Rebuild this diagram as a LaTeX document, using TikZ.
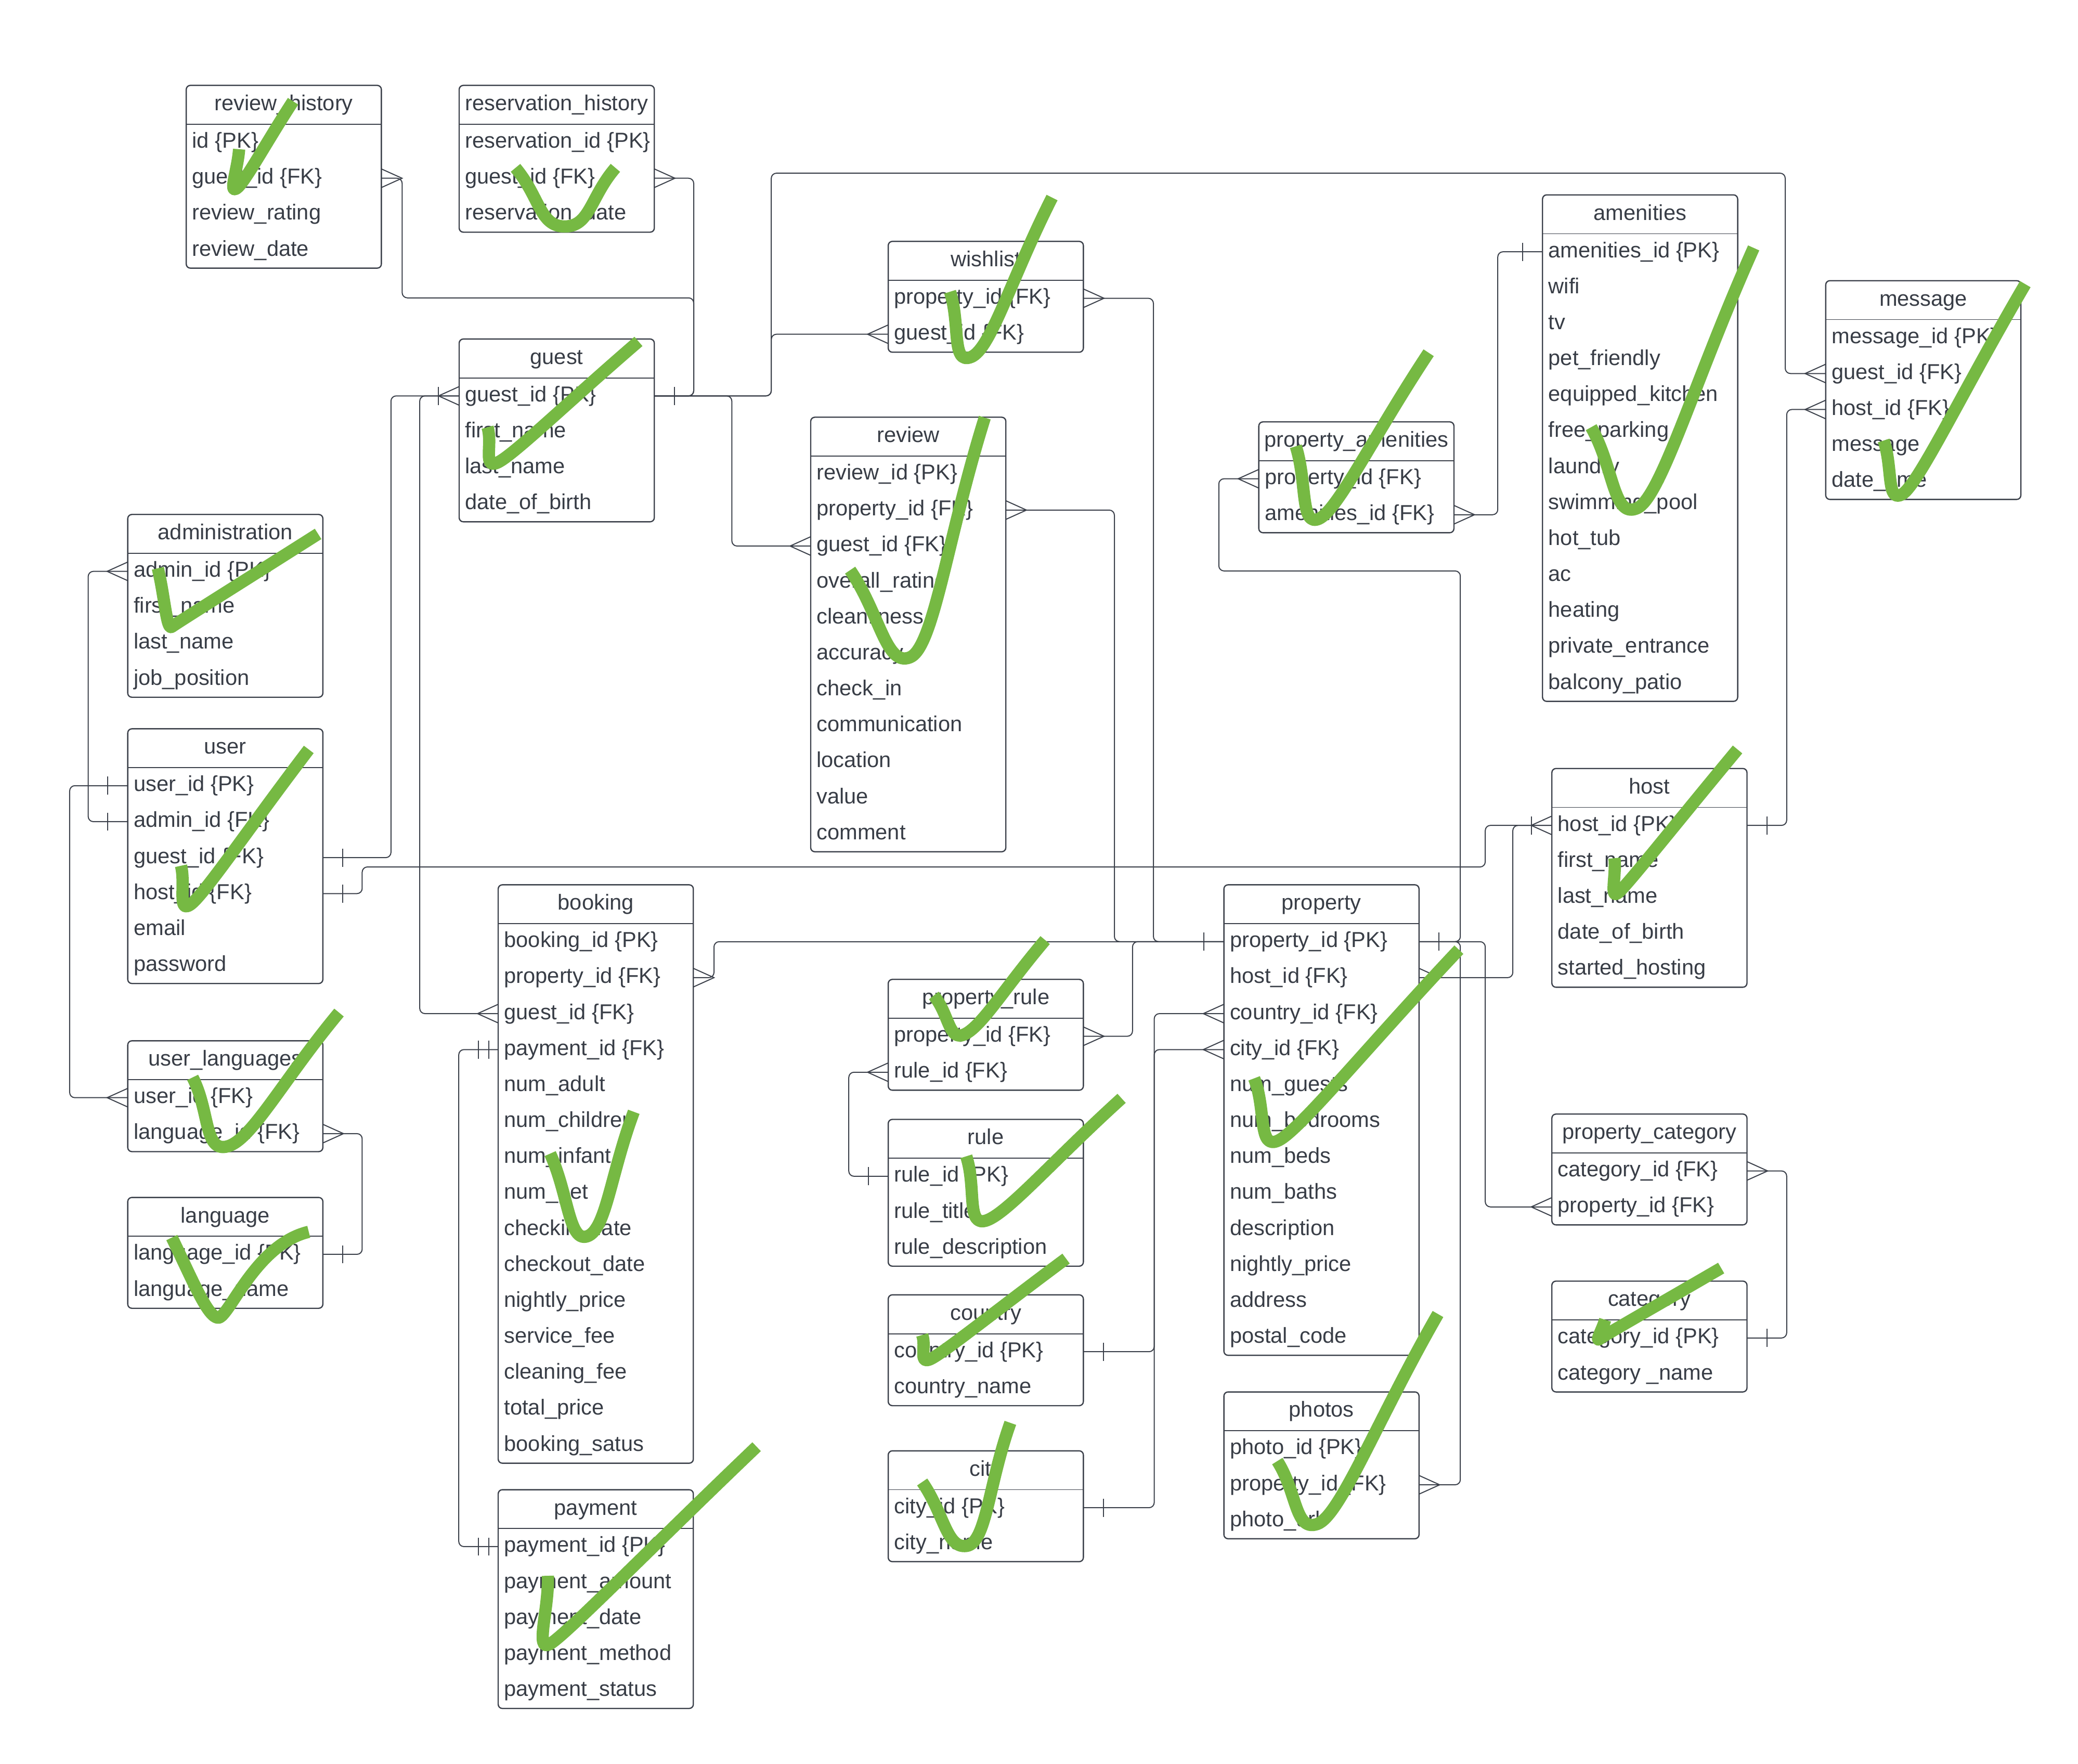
\documentclass[tikz,border=0pt]{standalone}
\usepackage{fontspec}
\setmainfont{Liberation Sans}
\usetikzlibrary{calc}
\definecolor{ink}{RGB}{56,61,70}
\definecolor{linec}{RGB}{60,65,75}
\definecolor{chkgreen}{RGB}{118,185,67}
\newcommand{\tabfont}{\fontsize{10.4pt}{12pt}\selectfont}
\tikzset{
  tabbox/.style={draw=linec, line width=0.6pt, rounded corners=2pt},
  tabrule/.style={draw=linec, line width=0.45pt},
  tabtitle/.style={text=ink, inner sep=0pt, anchor=base, font=\tabfont},
  rowtext/.style={text=ink, inner sep=0pt, anchor=base west, font=\tabfont},
  conn/.style={draw=linec, line width=0.5pt, rounded corners=2.5pt},
  endmark/.style={draw=linec, line width=0.5pt},
  check/.style={draw=chkgreen, line width=5.9pt, line cap=butt, line join=round},
}
% table: name, x, y(top), rows, title, row list
\newcommand{\ertab}[6]{%
  \draw[tabbox] (#2,#3) rectangle (#2+146.5,#3+29.2+27*#4);
  \draw[tabrule] (#2,#3+29.2) -- (#2+146.5,#3+29.2);
  \node[tabtitle] (#1) at (#2+73.25,#3+18.9) {#5};
  \foreach \rowtxt [count=\i] in {#6} {
    \pgfmathsetmacro{\ry}{#3+42.7+27*(\i-1)}
    \node[rowtext] (#1-t\i) at (#2+4.2,\ry+4.3) {\rowtxt};
    \coordinate (#1-L\i) at (#2,\ry);
    \coordinate (#1-R\i) at (#2+146.5,\ry);
  }%
}
\newcommand{\crowR}[1]{\draw[endmark] ($(#1)+(0,-7)$) -- ($(#1)+(15.5,0)$) -- ($(#1)+(0,7)$);}
\newcommand{\crowL}[1]{\draw[endmark] ($(#1)+(0,-7)$) -- ($(#1)+(-15.5,0)$) -- ($(#1)+(0,7)$);}
\newcommand{\barR}[1]{\draw[endmark] ($(#1)+(15,-6.8)$) -- ($(#1)+(15,6.8)$);}
\newcommand{\barL}[1]{\draw[endmark] ($(#1)+(-15,-6.8)$) -- ($(#1)+(-15,6.8)$);}
\newcommand{\obarL}[1]{\draw[endmark] ($(#1)+(-15.5,-6.8)$) -- ($(#1)+(-15.5,6.8)$);}
\newcommand{\dbarL}[1]{\barL{#1}\draw[endmark] ($(#1)+(-7.2,-6.8)$) -- ($(#1)+(-7.2,6.8)$);}
\newcommand{\chk}[4]{\draw[check] (#1) .. controls ($(#1)!0.5!(#2)$) and ($(#2)-(#4)$) .. (#2) .. controls ($(#2)+(#4)$) and ($(#2)!0.5!(#3)$) .. (#3);}

\begin{document}
\begin{tikzpicture}[x=0.64pt,y=-0.64pt]
\fill[white] (0,0) rectangle (1560,1324.2);
\path[use as bounding box] (0,0) rectangle (1560,1324.2);

% ---------- tables ----------
\ertab{revhist}{139.8}{64.1}{4}{review\_history}{id \{PK\},guest\_id \{FK\},review\_rating,review\_date}
\ertab{reshist}{344.7}{64.1}{3}{reservation\_history}{reservation\_id \{PK\},guest\_id \{FK\},reservation\_date}
\ertab{guest}{344.7}{254.5}{4}{guest}{guest\_id \{PK\},first\_name,last\_name,date\_of\_birth}
\ertab{wishlist}{666.8}{181.2}{2}{wishlist}{property\_id \{FK\},guest\_id \{FK\}}
\ertab{review}{608.6}{313.2}{11}{review}{review\_id \{PK\},property\_id \{FK\},guest\_id \{FK\},overall\_rating,cleanliness,accuracy,check\_in,communication,location,value,comment}
\ertab{propamen}{945}{316.7}{2}{property\_amenities}{property\_id \{FK\},amenities\_id \{FK\}}
\ertab{amenities}{1158}{146.3}{13}{amenities}{amenities\_id \{PK\},wifi,tv,pet\_friendly,equipped\_kitchen,free\_parking,laundry,swimming\_pool,hot\_tub,ac,heating,private\_entrance,balcony\_patio}
\ertab{message}{1370.6}{210.7}{5}{message}{message\_id \{PK\},guest\_id \{FK\},host\_id \{FK\},message,date\_time}
\ertab{admin}{95.9}{386.2}{4}{administration}{admin\_id \{PK\},first\_name,last\_name,job\_position}
\ertab{user}{95.9}{547.1}{6}{user}{user\_id \{PK\},admin\_id \{FK\},guest\_id \{FK\},host\_id \{FK\},email,password}
\ertab{userlang}{95.9}{781.3}{2}{user\_languages}{user\_id \{FK\},language\_id \{FK\}}
\ertab{language}{95.9}{898.9}{2}{language}{language\_id \{PK\},language\_name}
\ertab{booking}{374}{664.2}{15}{booking}{booking\_id \{PK\},property\_id \{FK\},guest\_id \{FK\},payment\_id \{FK\},num\_adult,num\_children,num\_infant,num\_pet,checkin\_date,checkout\_date,nightly\_price,service\_fee,cleaning\_fee,total\_price,booking\_satus}
\ertab{payment}{374}{1118.3}{5}{payment}{payment\_id \{PK\},payment\_amount,payment\_date,payment\_method,payment\_status}
\ertab{proprule}{666.8}{735.2}{2}{property\_rule}{property\_id \{FK\},rule\_id \{FK\}}
\ertab{rule}{666.8}{840.3}{3}{rule}{rule\_id \{PK\},rule\_title,rule\_description}
\ertab{country}{666.8}{972}{2}{country}{country\_id \{PK\},country\_name}
\ertab{city}{666.8}{1089.1}{2}{city}{city\_id \{PK\},city\_name}
\ertab{property}{918.8}{664.2}{12}{property}{property\_id \{PK\},host\_id \{FK\},country\_id \{FK\},city\_id \{FK\},num\_guests,num\_bedrooms,num\_beds,num\_baths,description,nightly\_price,address,postal\_code}
\ertab{photos}{918.8}{1044.9}{3}{photos}{photo\_id \{PK\},property\_id \{FK\},photo\_url}
\ertab{host}{1165}{576.9}{5}{host}{host\_id \{PK\},first\_name,last\_name,date\_of\_birth,started\_hosting}
\ertab{propcat}{1165}{836.3}{2}{property\_category}{category\_id \{FK\},property\_id \{FK\}}
\ertab{category}{1165}{961.7}{2}{category}{category\_id \{PK\},category \_name}

% ---------- connectors ----------
\draw[conn] (revhist-R2) -- ++(15.6,0) |- (520.8,223.6) |- (guest-R1);
\draw[conn] (reshist-R2) -- ++(29.6,0) |- (guest-R1);
\draw[conn] (guest-R1) -- ++(87.8,0) |- (1340.2,130) |- (message-L2);
\draw[conn] (guest-R1) -- ++(87.8,0) |- (wishlist-L2);
\draw[conn] (guest-R1) -- ++(58.2,0) |- (review-L3);
\draw[conn] (user-R3) -- ++(51.1,0) |- (guest-L1);
\draw[conn] (booking-L3) -- ++(-58.9,0) |- (guest-L1);
\draw[conn] (admin-L1) -- ++(-29.7,0) |- (user-L2);
\draw[conn] (user-L1) -- ++(-43.6,0) |- (userlang-L1);
\draw[conn] (userlang-R2) -- ++(29.5,0) |- (language-R1);
\draw[conn] (user-R4) -- ++(29.5,0) |- (1115,650.8) |- (host-L1);
\draw[conn] (property-R2) -- ++(70.4,0) |- (host-L1);
\draw[conn] (host-R1) -- ++(29.8,0) |- (message-L3);
\draw[conn] (booking-R2) -- ++(15.5,0) |- (property-L1);
\draw[conn] (review-R2) -- ++(81.5,0) |- (property-L1);
\draw[conn] (wishlist-R1) -- ++(52.6,0) |- (property-L1);
\draw[conn] (proprule-R1) -- ++(36.9,0) |- (property-L1);
\draw[conn] (proprule-L2) -- ++(-29.6,0) |- (rule-L1);
\draw[conn] (property-L3) -- ++(-52.3,0) |- (country-R1);
\draw[conn] (property-L4) -- ++(-52.3,0) |- (city-R1);
\draw[conn] (propamen-L1) -- ++(-30,0) |- (1096.3,428.6) |- (property-R1);
\draw[conn] (photos-R2) -- ++(31,0) |- (property-R1);
\draw[conn] (property-R1) -- ++(49.7,0) |- (propcat-L2);
\draw[conn] (propamen-R2) -- ++(32.9,0) |- (amenities-L1);
\draw[conn] (propcat-R1) -- ++(29.8,0) |- (category-R1);
\draw[conn] (booking-L4) -- ++(-29.6,0) |- (payment-L1);

% ---------- end marks ----------
\crowR{revhist-R2} \crowR{reshist-R2} \barR{guest-R1}
\crowL{guest-L1} \obarL{guest-L1}
\crowL{message-L2} \crowL{message-L3}
\crowL{wishlist-L2} \crowR{wishlist-R1}
\crowL{review-L3} \crowR{review-R2}
\crowL{admin-L1} \barL{user-L2} \barL{user-L1} \crowL{userlang-L1}
\crowR{userlang-R2} \barR{language-R1}
\barR{user-R3} \barR{user-R4}
\crowL{host-L1} \obarL{host-L1} \barR{host-R1}
\crowR{property-R2} \barL{property-L1} \barR{property-R1}
\crowR{booking-R2} \crowL{booking-L3} \dbarL{booking-L4} \dbarL{payment-L1}
\crowR{proprule-R1} \crowL{proprule-L2} \barL{rule-L1}
\crowL{property-L3} \crowL{property-L4} \barR{country-R1} \barR{city-R1}
\crowL{propamen-L1} \crowR{propamen-R2} \barL{amenities-L1}
\crowR{photos-R2}
\crowL{propcat-L2} \crowR{propcat-R1} \barR{category-R1}

% ---------- check marks ----------
\chk{179.5,112}{177.5,141.5}{220,76}{6,-4}
\chk{387,126}{424,170}{462,126}{19,0}
\chk{366,320.7}{374,347}{479.3,256.3}{12,-6}
\chk{713.2,219}{729,268}{789.8,148.3}{15,-6}
\chk{638.2,428}{683,493.5}{739.3,313.5}{18,-7}
\chk{972.8,335}{990,389.5}{1072.5,264.8}{14,-6}
\chk{1194.5,320.7}{1229,381.5}{1316.5,186.1}{18,-8}
\chk{1414.1,330.7}{1428,371}{1520.4,213.3}{12,-7}
\chk{118.5,426.6}{129,470.5}{238.8,400.8}{4,-3}
\chk{135.9,649.9}{143,679}{231.8,562.6}{10,-7}
\chk{144.6,808.8}{171,860.5}{254.5,760.1}{18,-5}
\draw[check] (129,929) .. controls (145,962) and (156,989) .. (163.8,989.2) .. controls (172,989) and (192,934) .. (231.8,924.7);
\chk{413,866}{441,928}{475.8,834.6}{14,-5}
\chk{411.3,1182.9}{413,1234}{568,1086}{12,-7}
\chk{701,747.3}{725,776}{784.6,705.7}{13,-7}
\chk{725.4,868}{741,916}{842,824.5}{16,-6}
\chk{692.3,1002.1}{699,1020}{800.3,944.8}{10,-5}
\chk{692.3,1112.5}{725.5,1160.5}{758.5,1068.1}{15,-2}
\chk{941.5,809.5}{960,856}{1095.2,712.9}{16,-8}
\chk{958.9,1096.8}{989,1144}{1079.5,986.4}{17,-6}
\chk{1212,644.2}{1215,670}{1304.4,562.6}{7,-6}
\chk{1205,990.7}{1201,1005}{1292.1,951.9}{4,-3}
\end{tikzpicture}
\end{document}
